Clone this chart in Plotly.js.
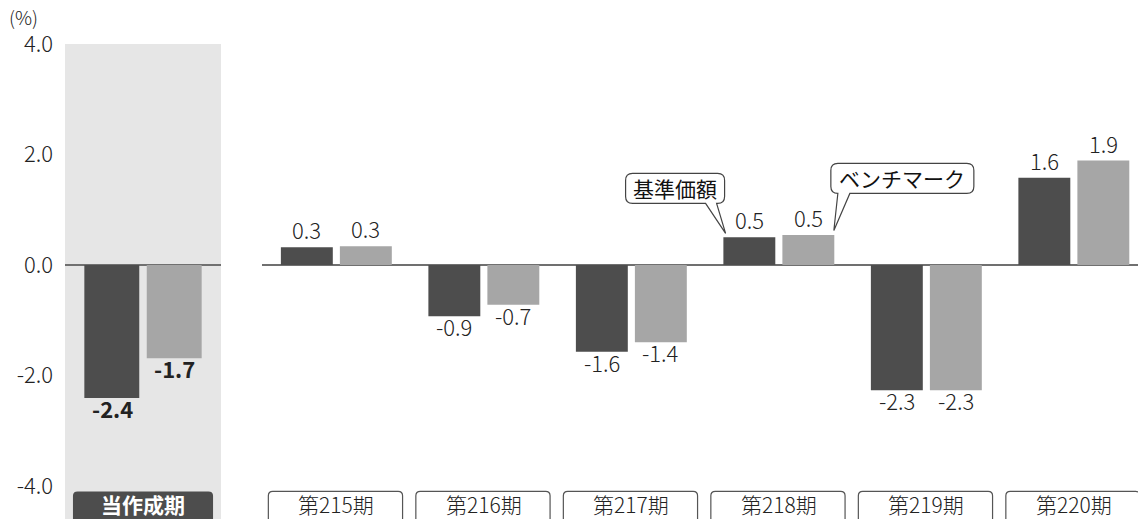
<!DOCTYPE html>
<html>
<head>
<meta charset="utf-8">
<script src="https://cdn.plot.ly/plotly-3.0.1.min.js"></script>
<style>html,body{margin:0;padding:0;background:#fff;}#chart{width:1138px;height:519px;}</style>
</head>
<body>
<div id="chart"></div>
<script>
// ---- data ----
const currentCategory = ['当作成期'];
const navCurrent = [-2.41];
const benchCurrent = [-1.69];

const periodCategories = ['第215期', '第216期', '第217期', '第218期', '第219期', '第220期'];
const navPeriods = [0.32, -0.93, -1.57, 0.50, -2.27, 1.58];
const benchPeriods = [0.34, -0.72, -1.40, 0.54, -2.27, 1.89];

const yTickValues = [4, 2, 0, -2, -4];
const yTickLabels = ['4.0', '2.0', '0.0', '-2.0', '-4.0'];

const seriesNames = ['基準価額', 'ベンチマーク'];
const unitLabel = '(%)';

// ---- styles ----
const FONT = '"Noto Sans CJK JP", "Noto Sans", sans-serif';
const DARK = '#4d4d4d';
const LIGHT = '#a6a6a6';
const TEXTC = '#222222';

function barTrace(xs, ys, name, color, xaxis) {
  return {
    type: 'bar', x: xs, y: ys, name: name, xaxis: xaxis, yaxis: 'y',
    marker: {color: color, line: {width: 0}},
    hoverinfo: 'skip', showlegend: false
  };
}

const data = [
  barTrace(currentCategory, navCurrent, seriesNames[0], DARK, 'x'),
  barTrace(currentCategory, benchCurrent, seriesNames[1], LIGHT, 'x'),
  barTrace(periodCategories, navPeriods, seriesNames[0], DARK, 'x2'),
  barTrace(periodCategories, benchPeriods, seriesNames[1], LIGHT, 'x2')
];

// rounded box path helper (in axis units)
function roundBox(cx, hw, yTop, yBot, rx, ry) {
  const l = cx - hw, r = cx + hw;
  return `M ${l},${yBot} L ${l},${yTop - ry} Q ${l},${yTop} ${l + rx},${yTop} ` +
         `L ${r - rx},${yTop} Q ${r},${yTop} ${r},${yTop - ry} L ${r},${yBot} Z`;
}

// speech bubble path in pixels relative to tip (y up)
function bubble(l, r, top, bot, t1, t2, rad) {
  return `M ${l + rad},${top} L ${r - rad},${top} Q ${r},${top} ${r},${top - rad} ` +
         `L ${r},${bot + rad} Q ${r},${bot} ${r - rad},${bot} L ${t2},${bot} L 0,0 L ${t1},${bot} ` +
         `L ${l + rad},${bot} Q ${l},${bot} ${l},${bot + rad} L ${l},${top - rad} Q ${l},${top} ${l + rad},${top} Z`;
}

const shapes = [
  {type: 'rect', xref: 'x', yref: 'paper', x0: -0.5, x1: 0.5, y0: 0, y1: 1,
   fillcolor: '#e6e6e6', line: {width: 0}, layer: 'below'}
];
const annotations = [];

// value labels for bars
function valueLabels(cats, vals, xref, xshift, bold) {
  cats.forEach((c, i) => {
    const v = vals[i];
    const pos = v >= 0;
    annotations.push({xref: xref, yref: 'y', x: c, y: v, xshift: xshift,
      yanchor: pos ? 'bottom' : 'top', yshift: pos ? 0 : 8,
      text: bold ? '<b>' + v.toFixed(1) + '</b>' : v.toFixed(1), showarrow: false,
      font: {family: FONT, size: 22, color: TEXTC, weight: bold ? 700 : 300}});
  });
}
valueLabels(currentCategory, navCurrent, 'x', -31, true);
valueLabels(currentCategory, benchCurrent, 'x', 31, true);
valueLabels(periodCategories, navPeriods, 'x2', -29.5, false);
valueLabels(periodCategories, benchPeriods, 'x2', 29.5, false);

// current-period label box
shapes.push({type: 'path', xref: 'x', yref: 'y',
  path: roundBox(0, 0.449, -4.1, -5.2, 0.03, 0.08),
  fillcolor: DARK, line: {width: 0}, layer: 'above'});
annotations.push({xref: 'x', yref: 'y', x: 0, y: -4.335, text: currentCategory[0],
  showarrow: false, font: {family: FONT, size: 21, color: '#ffffff', weight: 700}});

periodCategories.forEach((c, i) => {
  shapes.push({type: 'path', xref: 'x2', yref: 'y',
    path: roundBox(i - 0.006, 0.455, -4.1, -5.2, 0.03, 0.08),
    fillcolor: '#ffffff', line: {width: 1.2, color: '#555555'}, layer: 'above'});
  annotations.push({xref: 'x2', yref: 'y', x: c, y: -4.335, text: c,
    showarrow: false, font: {family: FONT, size: 21, color: TEXTC, weight: 300}});
});

// callouts (speech bubbles anchored at their tips)
const callouts = [
  {name: seriesNames[0], x: 2.639, y: 0.57, box: [-100, -1, 60, 30], tail: [-20, -9], center: [-50.5, 45]},
  {name: seriesNames[1], x: 3.373, y: 0.624, box: [-3, 140, 67, 37], tail: [4, 16], center: [68.5, 52]}
];
callouts.forEach(c => {
  shapes.push({type: 'path', xref: 'x2', yref: 'y', xsizemode: 'pixel', ysizemode: 'pixel',
    xanchor: c.x, yanchor: c.y,
    path: bubble(c.box[0], c.box[1], c.box[2], c.box[3], c.tail[0], c.tail[1], 7),
    fillcolor: '#ffffff', line: {width: 1.2, color: '#444444'}, layer: 'above'});
  annotations.push({xref: 'x2', yref: 'y', x: c.x, y: c.y, xshift: c.center[0], yshift: c.center[1],
    text: c.name, showarrow: false, font: {family: FONT, size: 21, color: '#111'}});
});

// unit label
annotations.push({xref: 'paper', yref: 'paper', x: -0.0545, y: 1.0589, xanchor: 'left', yanchor: 'middle',
  text: unitLabel, showarrow: false, font: {family: FONT, size: 19, color: TEXTC, weight: 300}});

const layout = {
  width: 1138, height: 519,
  margin: {l: 65, r: 0, t: 44, b: 0, pad: 0},
  paper_bgcolor: '#ffffff', plot_bgcolor: 'rgba(0,0,0,0)',
  barmode: 'group', bargap: 0.2, bargroupgap: 0.12,
  showlegend: false,
  font: {family: FONT, color: TEXTC},
  xaxis: {domain: [0, 0.14539], range: [-0.5, 0.5], showticklabels: false, showgrid: false,
          zeroline: false, showline: false, ticks: '', fixedrange: true},
  xaxis2: {domain: [0.1836, 1], range: [-0.504, 5.435], showticklabels: false, showgrid: false,
           zeroline: false, showline: false, ticks: '', anchor: 'y', fixedrange: true},
  yaxis: {range: [-4.6, 4.0], tickvals: yTickValues, ticktext: yTickLabels, showgrid: false,
          zeroline: true, zerolinecolor: '#707070', zerolinewidth: 2.5, showline: false,
          ticks: '', ticklabelstandoff: 11,
          tickfont: {family: FONT, size: 22, color: TEXTC, weight: 300},
          fixedrange: true, anchor: 'x'},
  shapes: shapes,
  annotations: annotations
};

Plotly.newPlot('chart', data, layout, {displayModeBar: false, staticPlot: true});
</script>
</body>
</html>
